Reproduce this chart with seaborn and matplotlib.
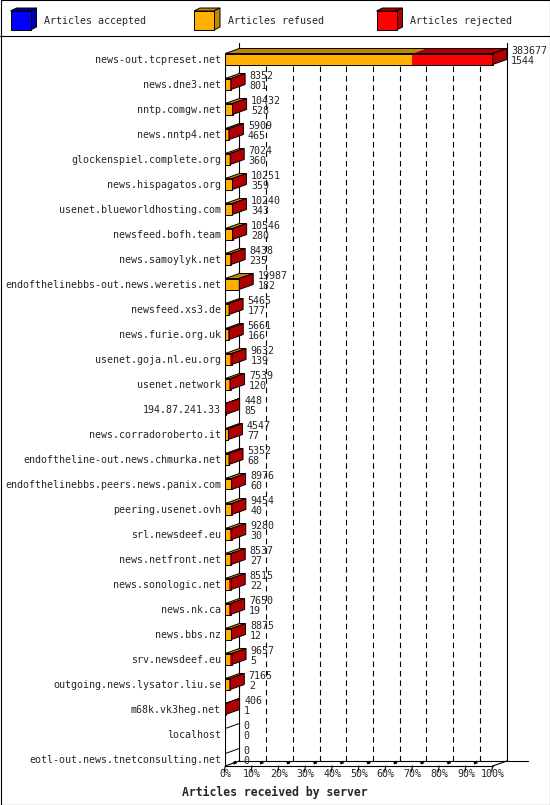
import numpy as np
import pandas as pd
import seaborn as sns
import matplotlib.pyplot as plt
from matplotlib.patches import Polygon, Rectangle

servers = [
    "news-out.tcpreset.net", "news.dne3.net", "nntp.comgw.net", "news.nntp4.net",
    "glockenspiel.complete.org", "news.hispagatos.org", "usenet.blueworldhosting.com",
    "newsfeed.bofh.team", "news.samoylyk.net", "endofthelinebbs-out.news.weretis.net",
    "newsfeed.xs3.de", "news.furie.org.uk", "usenet.goja.nl.eu.org", "usenet.network",
    "194.87.241.33", "news.corradoroberto.it", "endoftheline-out.news.chmurka.net",
    "endofthelinebbs.peers.news.panix.com", "peering.usenet.ovh", "srl.newsdeef.eu",
    "news.netfront.net", "news.sonologic.net", "news.nk.ca", "news.bbs.nz",
    "srv.newsdeef.eu", "outgoing.news.lysator.liu.se", "m68k.vk3heg.net",
    "localhost", "eotl-out.news.tnetconsulting.net",
]
offered = [383677, 8352, 10432, 5909, 7024, 10251, 10240, 10546, 8438, 19987,
           5465, 5661, 9632, 7539, 448, 4547, 5352, 8976, 9454, 9280,
           8537, 8515, 7650, 8875, 9657, 7165, 406, 0, 0]
accepted = [1544, 801, 528, 465, 360, 359, 343, 280, 235, 182,
            177, 166, 139, 120, 85, 77, 68, 60, 40, 30,
            27, 22, 19, 12, 5, 2, 1, 0, 0]
# refused / rejected
refused = [266600, 5880, 9100, 3300, 5820, 9380, 9380, 9900, 6935, 19500,
           4580, 3900, 7100, 5530, 200, 3100, 4600, 7500, 7600, 6100,
           7100, 5800, 5750, 7600, 7200, 5700, 100, 0, 0]
rejected = [115533, 1671, 804, 2144, 844, 512, 517, 366, 1268, 305,
            708, 1595, 2393, 1889, 163, 1370, 684, 1416, 1814, 3150,
            1410, 2693, 1881, 1263, 2452, 1463, 305, 0, 0]

series = ["Articles accepted", "Articles refused", "Articles rejected"]
front_colors = ["#0000FF", "#FFB000", "#FF0000"]
dark_colors = ["#0000B0", "#C08800", "#B00000"]

sns.set_style("white")
plt.rcParams["font.family"] = ["DejaVu Sans Mono"]
plt.rcParams["font.size"] = 7.2

W, H = 550, 805
fig = plt.figure(figsize=(W / 100, H / 100), dpi=100)


def fx(px):
    return px / W


def fy(py):
    return 1 - py / H


# pixel geometry of the fake 3d plot
X0, X100 = 225.3, 492.7
ROW0, PITCH = 59, 25
PXPCT = (X100 - X0) / 100
DX = 14 / PXPCT
DY = 5 / PITCH
BAR_H = 11 / PITCH
top_px, bot_px, right_px = 43, 766, 545

# background layer: borders + legend
bg = fig.add_axes([0, 0, 1, 1], zorder=0)
bg.set_xlim(0, W)
bg.set_ylim(H, 0)
bg.axis("off")
bg.add_patch(Rectangle((0.5, 0.5), W - 1, H - 1, fill=False, edgecolor="black", lw=0.8))
bg.plot([0, W], [36.5, 36.5], color="black", lw=0.8)
for label, fc, dc, lx in zip(series, front_colors, dark_colors, [10.5, 194, 376.5]):
    bg.add_patch(Polygon([(lx, 11), (lx + 20, 11), (lx + 26, 8), (lx + 6, 8)],
                         facecolor=dc, edgecolor="black", lw=0.7))
    bg.add_patch(Polygon([(lx + 20, 11), (lx + 20, 30), (lx + 26, 27), (lx + 26, 8)],
                         facecolor=dc, edgecolor="black", lw=0.7))
    bg.add_patch(Rectangle((lx, 11), 20, 19, facecolor=fc, edgecolor="black", lw=0.7))
    bg.text(lx + 34, 24, label, va="baseline", ha="left", fontsize=7.2)

ax = fig.add_axes([fx(X0), fy(bot_px), fx(right_px) - fx(X0), fy(top_px) - fy(bot_px)], zorder=1)
ax.patch.set_alpha(0)

scale = 100 / max(offered)
df = pd.DataFrame({"server": servers, "accepted": accepted,
                   "refused": refused, "rejected": rejected, "offered": offered})
df["acc_pct"] = df["accepted"] * scale
df["ref_pct"] = (df["accepted"] + df["refused"]) * scale
df["tot_pct"] = (df["accepted"] + df["refused"] + df["rejected"]) * scale

common = dict(data=df, y="server", orient="h", width=BAR_H, saturation=1,
              errorbar=None, ax=ax)
sns.barplot(x="tot_pct", color=front_colors[2], linewidth=0, **common)
sns.barplot(x="ref_pct", color=front_colors[1], linewidth=0, **common)
sns.barplot(x="acc_pct", color=front_colors[0], linewidth=0, **common)
sns.barplot(x="tot_pct", color="black", fill=False, linewidth=0.7, **common)

floor_f = (bot_px - ROW0) / PITCH
floor_b = floor_f - DY
n = len(servers)

# back walls, grid and floor
ax.plot([DX, DX], [(top_px - ROW0) / PITCH, floor_b], color="black", lw=0.8, zorder=0.5)
ax.plot([100 + DX, 100 + DX], [(top_px - ROW0) / PITCH, floor_b], color="black", lw=0.8, zorder=0.5)
for p in range(10, 100, 10):
    ax.plot([p + DX, p + DX], [(66 - ROW0) / PITCH, floor_b], color="black", lw=0.8,
            linestyle=(0, (5, 3.5)), zorder=0.5)
ax.plot([0, 0], [0, floor_f], color="black", lw=0.8, zorder=0.6)
ax.plot([0, 100], [floor_f, floor_f], color="black", lw=0.8, zorder=0.6, clip_on=False)
ax.plot([DX, (528 - X0) / PXPCT], [floor_b, floor_b], color="black", lw=0.8, zorder=0.6)
ax.plot([0, DX], [floor_f, floor_b], color="black", lw=0.8, zorder=0.6, clip_on=False)
ax.plot([100, 100 + DX], [floor_f, floor_b], color="black", lw=0.8, zorder=0.6, clip_on=False)
for p in range(0, 101, 10):
    ax.plot([p - 0.4, p], [floor_f + 0.22, floor_f], color="black", lw=0.8, clip_on=False)
    if p < 100:
        ax.plot([p + 3.0, p + 4.2], [floor_b + 0.09, floor_b + 0.04], color="black",
                lw=2, solid_capstyle="butt", clip_on=False)

# 3d faces and value labels
for i, row in df.iterrows():
    a, r, t = row["acc_pct"], row["ref_pct"], row["tot_pct"]
    yt, yb = i - BAR_H / 2, i + BAR_H / 2
    if t > 0:
        segs = [(0, a), (a, r), (r, t)]
        last = None
        for (x0, x1), dc in zip(segs, dark_colors):
            if x1 > x0:
                ax.add_patch(Polygon([(x0, yt), (x1, yt), (x1 + DX, yt - DY), (x0 + DX, yt - DY)],
                                     facecolor=dc, edgecolor="none", zorder=3))
                last = dc
        ax.add_patch(Polygon([(0, yt), (t, yt), (t + DX, yt - DY), (DX, yt - DY)],
                             fill=False, edgecolor="black", lw=0.7, zorder=3.5))
        ax.add_patch(Polygon([(t, yt), (t, yb), (t + DX, yb - DY), (t + DX, yt - DY)],
                             facecolor=last, edgecolor="black", lw=0.7, zorder=3.5))
    else:
        ax.plot([0, DX], [yt, yt - DY], color="black", lw=0.7, zorder=3.5)
    lx = t + DX + 1.7
    ax.text(lx, i - 0.2, f"{row['offered']}", va="baseline", ha="left", fontsize=7.2)
    ax.text(lx, i + 0.18, f"{row['accepted']}", va="baseline", ha="left", fontsize=7.2)

ax.set_xlim(0, (right_px - X0) / PXPCT)
ax.set_ylim(floor_f, (top_px - ROW0) / PITCH)
ax.set_xticks(np.arange(0, 101, 10))
ax.set_xticklabels([f"{p}%" for p in range(0, 101, 10)])
ax.tick_params(axis="x", length=0, pad=2.5, labelsize=7.2)
ax.tick_params(axis="y", length=0, pad=3.1, labelsize=7.2)
ax.set_xlabel("")
ax.set_ylabel("")
for s in ax.spines.values():
    s.set_visible(False)

fig.text(0.5, fy(792), "Articles received by server", ha="center", va="center",
         fontweight="bold", fontsize=8.3)

fig.savefig("out.png", dpi=100)
